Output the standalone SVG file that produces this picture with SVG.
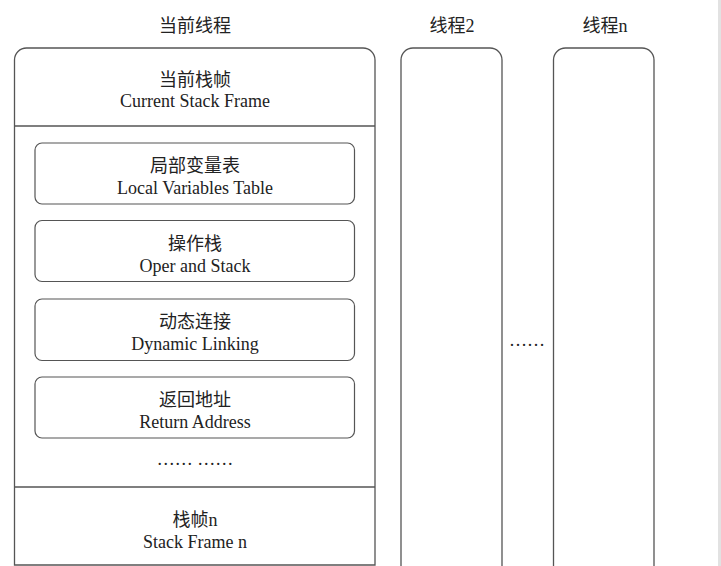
<svg xmlns="http://www.w3.org/2000/svg" width="721" height="566" viewBox="0 0 721 566">
<style>
.frame{fill:none;stroke:#555;stroke-width:1.3}
.box{fill:#fff;stroke:#555;stroke-width:1.2}
.t{font-family:"Liberation Serif","Noto Sans CJK SC",serif;font-size:18px;fill:#222;text-anchor:middle}
.cn{font-family:"Liberation Serif","Noto Sans CJK SC",serif;font-size:18px;fill:#222;text-anchor:middle}
</style>
<rect x="0" y="0" width="721" height="566" fill="#fff"/>
<rect x="718" y="0" width="3" height="566" fill="#e2e2e2"/>

<g id="current-thread">
  <text class="cn" x="195" y="32">当前线程</text>
  <path class="frame" d="M14.5,565 V60 A12,12 0 0 1 26.5,48 H363 A12,12 0 0 1 375,60 V565 Z"/>
  <line class="frame" x1="14.5" y1="126" x2="375" y2="126"/>
  <line class="frame" x1="14.5" y1="487" x2="375" y2="487"/>
</g>

<g id="current-frame">
  <text class="cn" x="195" y="86">当前栈帧</text>
  <text class="t" x="195" y="107">Current Stack Frame</text>
</g>

<g id="local-variables">
  <rect class="box" x="35" y="143" width="319.5" height="61" rx="7"/>
  <text class="cn" x="195" y="172">局部变量表</text>
  <text class="t" x="195" y="194">Local Variables Table</text>
</g>

<g id="operand-stack">
  <rect class="box" x="35" y="220.5" width="319.5" height="61" rx="7"/>
  <text class="cn" x="195" y="250">操作栈</text>
  <text class="t" x="195" y="272">Oper and Stack</text>
</g>

<g id="dynamic-linking">
  <rect class="box" x="35" y="299" width="319.5" height="61.5" rx="7"/>
  <text class="cn" x="195" y="328">动态连接</text>
  <text class="t" x="195" y="350">Dynamic Linking</text>
</g>

<g id="return-address">
  <rect class="box" x="35" y="377" width="319.5" height="61" rx="7"/>
  <text class="cn" x="195" y="406">返回地址</text>
  <text class="t" x="195" y="428">Return Address</text>
</g>

<g id="more-frames">
  <text class="t" x="195" y="465">…… ……</text>
</g>

<g id="stack-frame-n">
  <text class="cn" x="195" y="526">栈帧n</text>
  <text class="t" x="195" y="548">Stack Frame n</text>
</g>

<g id="thread-2">
  <text class="cn" x="452" y="32">线程2</text>
  <path class="frame" d="M401,566 V60 A12,12 0 0 1 413,48 H490 A12,12 0 0 1 502,60 V566"/>
</g>

<g id="thread-ellipsis">
  <text class="t" x="527" y="346">……</text>
</g>

<g id="thread-n">
  <text class="cn" x="605" y="32">线程n</text>
  <path class="frame" d="M553.5,566 V60 A12,12 0 0 1 565.5,48 H642 A12,12 0 0 1 654,60 V566"/>
</g>
</svg>
